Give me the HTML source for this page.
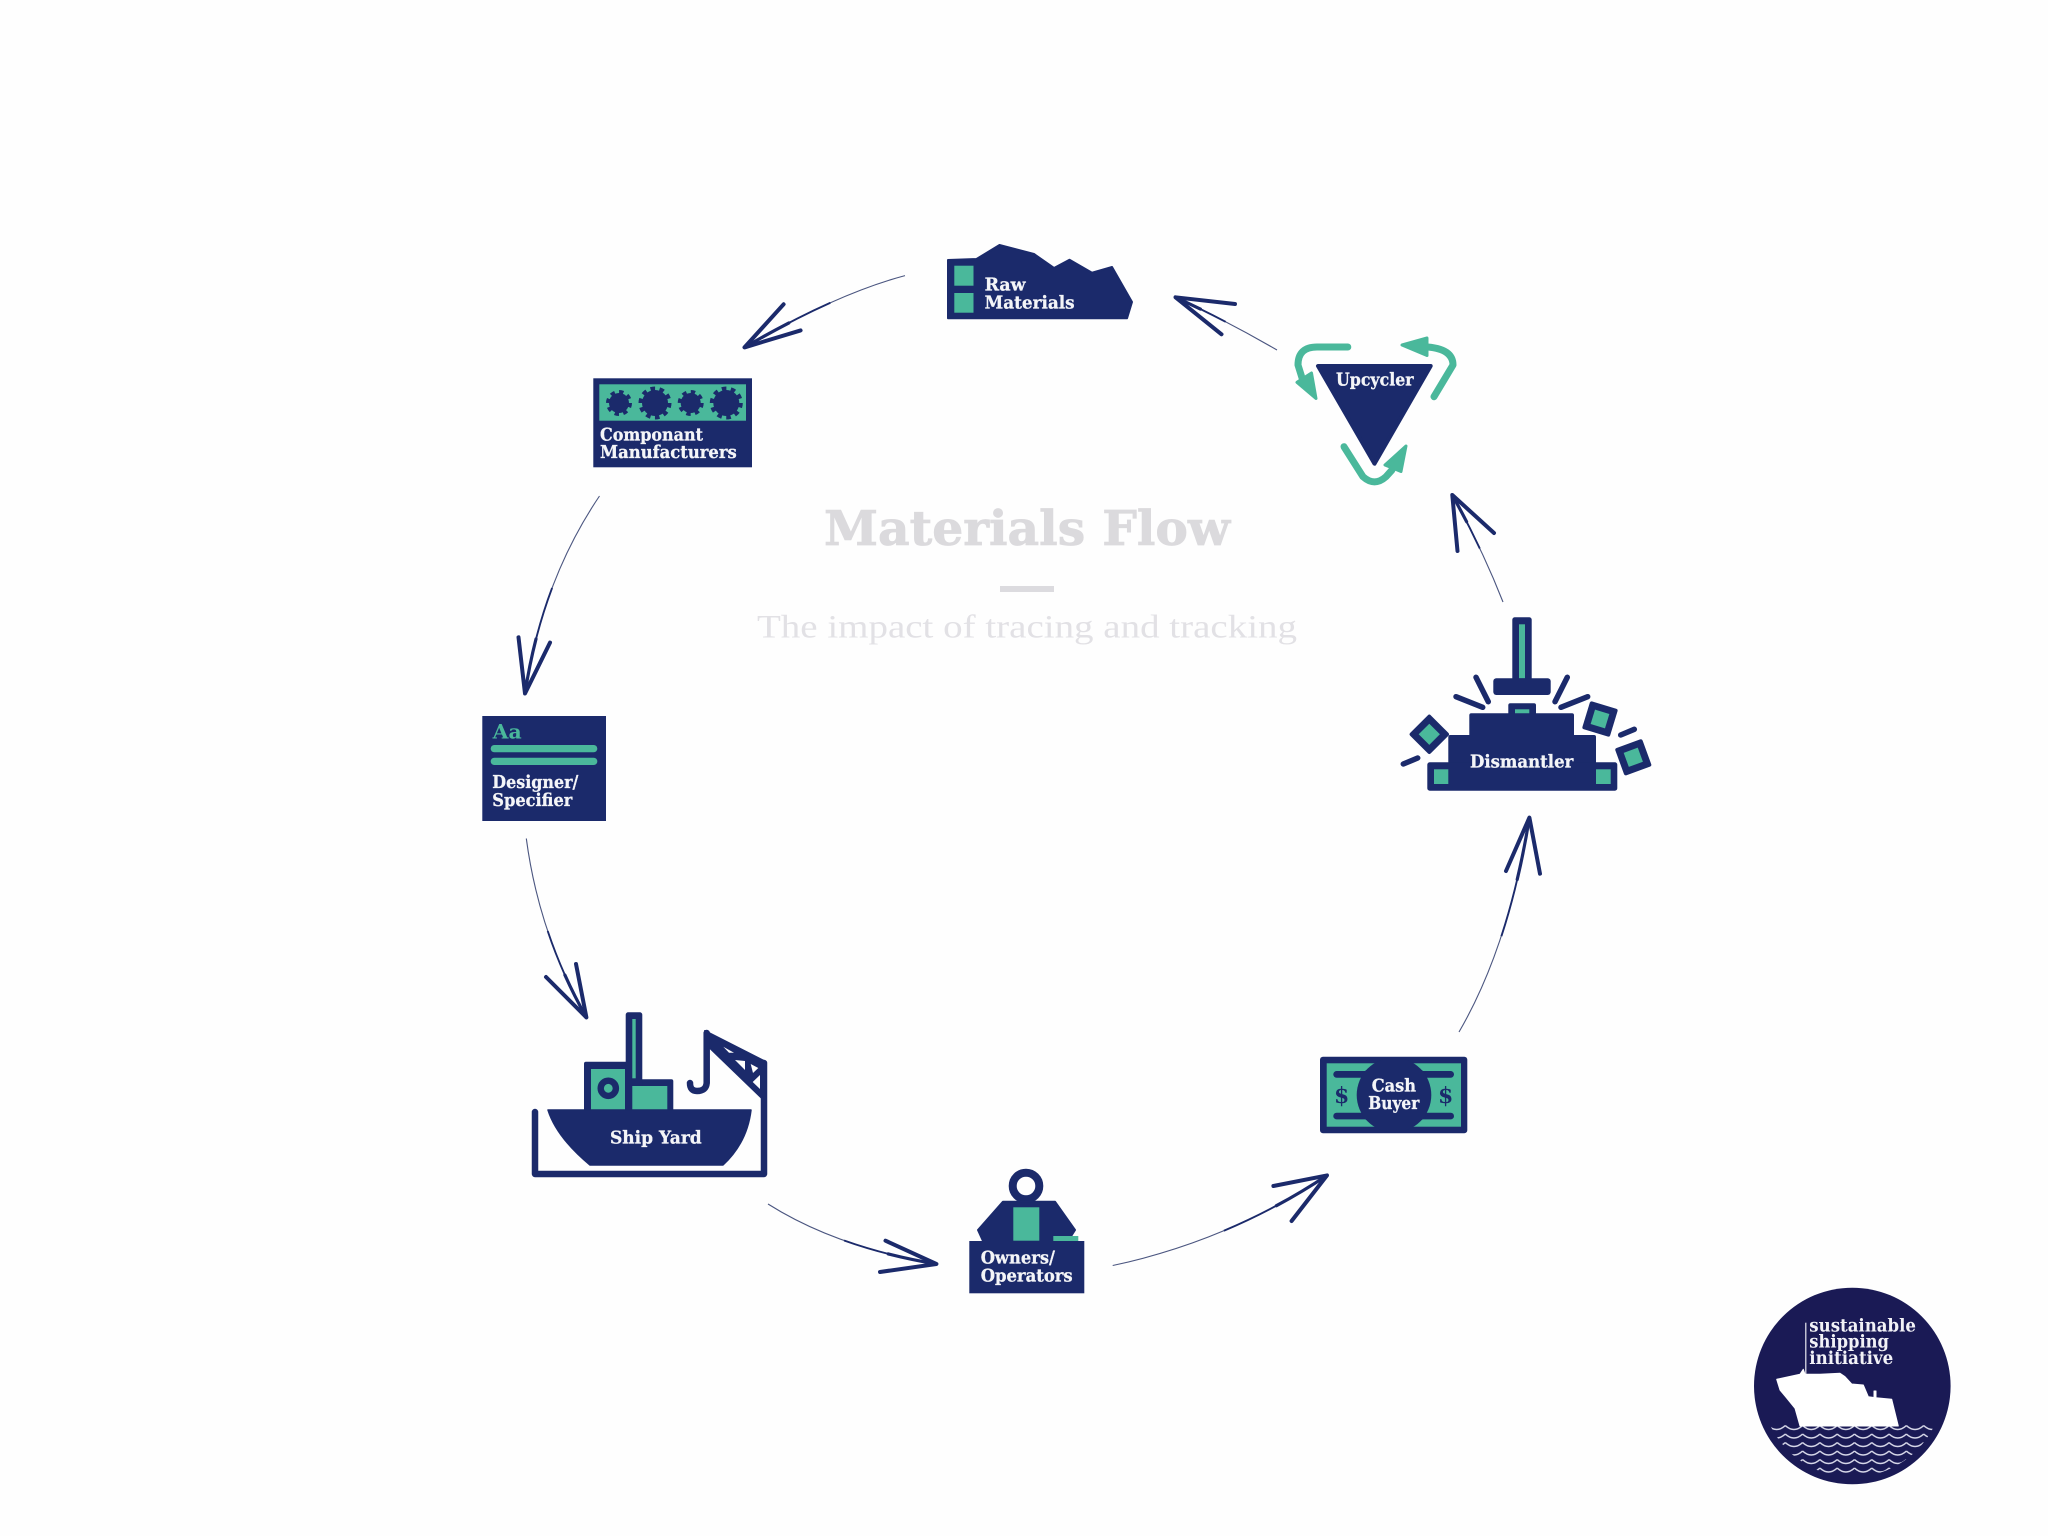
<!DOCTYPE html>
<html>
<head>
<meta charset="utf-8">
<style>
html,body{margin:0;padding:0;background:#fff}
svg{display:block}
.b{font-family:"DejaVu Serif","Liberation Serif",serif;font-weight:700;font-size:18px;fill:#f4f5f8;stroke:#f4f5f8;stroke-width:.3}
.s{fill:none;stroke:#4b5680;stroke-width:1.1}
.m{fill:none;stroke:#1b2a6b;stroke-width:1.9}
.t{fill:none;stroke:#1b2a6b;stroke-width:3.2;stroke-linecap:round}
.h{fill:none;stroke:#1b2a6b;stroke-width:4;stroke-linecap:round;stroke-linejoin:round}
.sp{fill:none;stroke:#1b2a6b;stroke-width:5.5;stroke-linecap:round}
.g{fill:#4ab89b}
.n{fill:#1b2a6b}
.ga{fill:none;stroke:#4ab89b;stroke-width:7;stroke-linecap:round;stroke-linejoin:round}
</style>
</head>
<body>
<svg xmlns="http://www.w3.org/2000/svg" width="2048" height="1536" viewBox="0 0 2048 1536">
<defs>
<pattern id="w" x="1768" y="1424" width="17.3" height="8.5" patternUnits="userSpaceOnUse">
<path d="M0,1.5 Q8.65,9.5 17.3,1.5" fill="none" stroke="#d6d7e8" stroke-width="1.4"/>
</pattern>
<clipPath id="wc"><circle cx="1852.3" cy="1386" r="91"/></clipPath>
</defs>
<rect width="2048" height="1536" fill="#fefefe"/>

<!-- Title -->
<text x="824" y="545" textLength="406" lengthAdjust="spacingAndGlyphs" style="font-family:'DejaVu Serif','Liberation Serif',serif;font-weight:700;font-size:48px;fill:#dbdadd;stroke:#dbdadd;stroke-width:.8">Materials Flow</text>
<rect x="1000" y="586" width="54" height="6" fill="#dcdbdf"/>
<text x="757" y="637.5" textLength="540" lengthAdjust="spacingAndGlyphs" style="font-family:'Liberation Serif',serif;font-size:33px;fill:#e2e1e5">The impact of tracing and tracking</text>

<!-- Arrows -->
<path class="s" d="M1277,350 Q1225,320 1175.5,297.3"/>
<path class="m" d="M1225.6,321.8 Q1200.3,308.7 1175.5,297.3"/>
<path class="t" d="M1200.4,309.1 Q1187.9,303 1175.5,297.3"/>
<path class="h" d="M1235,304 L1175.5,297.3 L1221.5,334.3"/>

<path class="s" d="M905,275.6 Q836,294 744.5,347.4"/>
<path class="m" d="M830.4,302.75 Q790.25,320.7 744.5,347.4"/>
<path class="t" d="M788.9,322.9 Q767.4,334 744.5,347.4"/>
<path class="h" d="M783.6,304.3 L744.5,347.4 L800.6,330.4"/>

<path class="s" d="M599.5,496 Q542,581 525,693.5"/>
<path class="m" d="M552.1,587.9 Q533.5,637.25 525,693.5"/>
<path class="t" d="M536,639 Q529.25,665.4 525,693.5"/>
<path class="h" d="M518.5,637.3 L525,693.5 L550,642.6"/>

<path class="s" d="M526.3,838.5 Q539,934 586.4,1017.4"/>
<path class="m" d="M547.7,931 Q562.7,975.7 586.4,1017.4"/>
<path class="t" d="M564.9,975 Q574.6,996.6 586.4,1017.4"/>
<path class="h" d="M546,977 L586.4,1017.4 L576,964"/>

<path class="s" d="M768,1204 Q836,1247 936.4,1264"/>
<path class="m" d="M844.1,1240.5 Q886.2,1255.5 936.4,1264"/>
<path class="t" d="M888.2,1253.9 Q911.3,1259.75 936.4,1264"/>
<path class="h" d="M885.5,1240.7 L936.4,1264 L880,1272"/>

<path class="s" d="M1112.7,1265.5 Q1228,1241 1327,1175.4"/>
<path class="m" d="M1223.9,1230.7 Q1277.5,1208.2 1327,1175.4"/>
<path class="t" d="M1276.4,1205.7 Q1302.25,1191.8 1327,1175.4"/>
<path class="h" d="M1273.4,1186 L1327,1175.4 L1291.6,1221"/>

<path class="s" d="M1459,1032 Q1508.5,947 1529.4,817.6"/>
<path class="m" d="M1501.4,936.2 Q1519,882.3 1529.4,817.6"/>
<path class="t" d="M1517.2,879.5 Q1524.2,850 1529.4,817.6"/>
<path class="h" d="M1506,871 L1529.4,817.6 L1540,873.7"/>

<path class="s" d="M1503,602 Q1482,548.5 1452.3,495"/>
<path class="m" d="M1479.8,548.5 Q1467.2,521.75 1452.3,495"/>
<path class="t" d="M1466.6,521.7 Q1459.7,508.4 1452.3,495"/>
<path class="h" d="M1457.5,551 L1452.3,495 L1494,533"/>

<!-- Raw Materials -->
<path class="n" stroke="#1b2a6b" stroke-width="2" stroke-linejoin="round" d="M948,260 L976.5,259 L999.5,245 L1034,254 L1054,268 L1069.5,259.7 L1092,272.7 L1112,267 L1132,302 L1127,318.3 L948,318.3 Z"/>
<rect class="g" x="954.3" y="265.7" width="19.2" height="20"/>
<rect class="g" x="954.3" y="293" width="19.2" height="19.7"/>
<text class="b" x="984.6" y="290.7" textLength="41" lengthAdjust="spacingAndGlyphs">Raw</text>
<text class="b" x="984.6" y="308.7" textLength="90" lengthAdjust="spacingAndGlyphs">Materials</text>

<!-- Upcycler -->
<path class="n" stroke="#1b2a6b" stroke-width="4" stroke-linejoin="round" d="M1318,366 L1430.7,366 L1374.5,463.7 Z"/>
<text class="b" x="1336" y="385.7" textLength="77.6" lengthAdjust="spacingAndGlyphs">Upcycler</text>
<path class="ga" d="M1347.8,347 L1317,347 Q1298,347 1298,365 L1303,381"/>
<path class="g" stroke="#4ab89b" stroke-width="3" stroke-linejoin="round" d="M1297,382.3 L1311.5,373 L1316,398.5 Z"/>
<path class="ga" d="M1424,346.7 Q1453,348 1453,365 L1434,396.7"/>
<path class="g" stroke="#4ab89b" stroke-width="3" stroke-linejoin="round" d="M1402,345 L1427,338 L1427,355.5 Z"/>
<path class="ga" d="M1344,446.7 L1363,476.7 Q1374.5,487 1386,476.7 L1392,470"/>
<path class="g" stroke="#4ab89b" stroke-width="3" stroke-linejoin="round" d="M1406,446 L1385,465 L1401,471.5 Z"/>

<!-- Component Manufacturers -->
<rect class="n" x="593.3" y="378.3" width="158.7" height="89"/>
<rect class="g" x="599.3" y="384.3" width="146.7" height="36.4"/>
<g class="n">
<circle cx="619" cy="403" r="10"/><circle cx="655" cy="403" r="13"/><circle cx="690.7" cy="403" r="10"/><circle cx="726.3" cy="403" r="13"/>
</g>
<g fill="none" stroke="#1b2a6b" stroke-width="4">
<circle cx="619" cy="403" r="11" stroke-dasharray="4.3 4.3"/>
<circle cx="655" cy="403" r="14.5" stroke-dasharray="4.6 4.5"/>
<circle cx="690.7" cy="403" r="11" stroke-dasharray="4.3 4.3"/>
<circle cx="726.3" cy="403" r="14.5" stroke-dasharray="4.6 4.5"/>
</g>
<text class="b" x="600" y="440.7" textLength="103" lengthAdjust="spacingAndGlyphs">Componant</text>
<text class="b" x="600" y="458" textLength="136.7" lengthAdjust="spacingAndGlyphs">Manufacturers</text>

<!-- Designer -->
<rect class="n" x="482.3" y="716" width="123.7" height="105"/>
<text x="492.7" y="738.3" textLength="29" lengthAdjust="spacingAndGlyphs" style="font-family:'DejaVu Serif',serif;font-weight:700;font-size:20px;fill:#4ab89b">Aa</text>
<rect class="g" x="490.7" y="745" width="106.6" height="7.3" rx="3.6"/>
<rect class="g" x="490.7" y="757.7" width="106.6" height="7.3" rx="3.6"/>
<text class="b" x="492.3" y="788" textLength="86" lengthAdjust="spacingAndGlyphs">Designer/</text>
<text class="b" x="492.3" y="806" textLength="80" lengthAdjust="spacingAndGlyphs">Specifier</text>

<!-- Ship Yard -->
<path fill="none" stroke="#1b2a6b" stroke-width="6.5" stroke-linecap="round" stroke-linejoin="round" d="M535,1112 L535,1174 L764,1174 L764,1063"/>
<path class="n" stroke="#1b2a6b" stroke-width="2" stroke-linejoin="round" d="M705,1031 L766,1062 L766,1102 L708,1046 Z"/>
<path fill="#fefefe" d="M723.3,1046.7 L734,1052.7 L729,1052.7 Z M735,1060 L745,1061 L745,1070 Z M750.7,1064 L758.3,1068 L753,1073 Z M752.7,1082 L760,1075 L760,1089 Z"/>
<path fill="none" stroke="#1b2a6b" stroke-width="6.5" stroke-linecap="round" d="M706.7,1033 L706.7,1083 Q706,1091 697,1091 Q690,1091 690,1083"/>
<rect class="n" x="584" y="1061.7" width="44" height="52" rx="2"/>
<rect class="n" x="625.7" y="1079.3" width="47.6" height="34" rx="2"/>
<rect class="n" x="625.7" y="1012.3" width="16.6" height="100" rx="2.5"/>
<rect class="g" x="591" y="1069" width="34" height="41"/>
<rect class="g" x="632.3" y="1086" width="35" height="24"/>
<rect class="g" x="632.3" y="1019" width="3.4" height="59.3"/>
<circle cx="608.3" cy="1088.3" r="7.6" fill="#4ab89b" stroke="#1b2a6b" stroke-width="6.4"/>
<path class="n" stroke="#1b2a6b" stroke-width="1.5" stroke-linejoin="round" d="M548,1110 L751,1110 C748,1135 737,1152 723,1165 L590,1165 C572,1150 555,1132 548,1110 Z"/>
<text class="b" x="610" y="1143.3" textLength="91.7" lengthAdjust="spacingAndGlyphs">Ship Yard</text>

<!-- Owners -->
<circle cx="1026" cy="1186" r="13.3" fill="#fefefe" stroke="#1b2a6b" stroke-width="8"/>
<path class="n" stroke="#1b2a6b" stroke-width="2" stroke-linejoin="round" d="M1003,1201.7 L1055,1201.7 L1075,1230 L1068,1241 L983,1241 L978,1230 Z"/>
<rect class="g" x="1013.3" y="1207.3" width="26" height="33.4"/>
<rect class="g" x="1053.3" y="1236" width="25" height="5"/>
<rect class="n" x="969.3" y="1241" width="115" height="52.3"/>
<text class="b" x="980.7" y="1263.3" textLength="74.3" lengthAdjust="spacingAndGlyphs">Owners/</text>
<text class="b" x="980.7" y="1281.7" textLength="92" lengthAdjust="spacingAndGlyphs">Operators</text>

<!-- Cash Buyer -->
<rect class="n" x="1320" y="1056.7" width="147.3" height="76.6" rx="3"/>
<rect class="g" x="1326.7" y="1063.3" width="134.3" height="63.4"/>
<rect class="n" x="1333.3" y="1071" width="120.7" height="6.7" rx="3.3"/>
<rect class="n" x="1333.3" y="1112.7" width="120.7" height="6.7" rx="3.3"/>
<path class="n" d="M1376,1063 L1412,1063 L1430,1076 L1358,1076 Z M1358,1114 L1430,1114 L1412,1127 L1376,1127 Z"/>
<circle class="n" cx="1394" cy="1095" r="37.3"/>
<text x="1341.7" y="1103" text-anchor="middle" style="font-family:'DejaVu Serif',serif;font-weight:700;font-size:22px;fill:#1b2a6b">$</text>
<text x="1445.7" y="1103" text-anchor="middle" style="font-family:'DejaVu Serif',serif;font-weight:700;font-size:22px;fill:#1b2a6b">$</text>
<text class="b" x="1371.7" y="1091.7" textLength="44.3" lengthAdjust="spacingAndGlyphs">Cash</text>
<text class="b" x="1368.3" y="1109" textLength="51" lengthAdjust="spacingAndGlyphs">Buyer</text>

<!-- Dismantler -->
<rect class="n" x="1512.3" y="617.3" width="19.4" height="64" rx="2.5"/>
<rect class="g" x="1519" y="624.3" width="6" height="54"/>
<rect class="n" x="1493.3" y="678.3" width="57.4" height="16.7" rx="3"/>
<rect class="n" x="1508.3" y="703.3" width="27.7" height="12" rx="2"/>
<rect class="g" x="1515" y="709.3" width="14.3" height="4.7"/>
<rect class="n" x="1469.3" y="713.3" width="104.7" height="24" rx="2"/>
<rect class="n" x="1448.3" y="735" width="147.7" height="29" rx="2"/>
<rect class="n" x="1427.3" y="762.3" width="190" height="28.4" rx="2.5"/>
<rect class="g" x="1434" y="769.3" width="14.3" height="14.7"/>
<rect class="g" x="1596" y="769.3" width="14.7" height="14.7"/>
<g class="sp">
<path d="M1476,677.3 L1488.3,701.7"/><path d="M1456,696.7 L1482.7,707.3"/>
<path d="M1567.3,677.3 L1555,701.7"/><path d="M1587.7,696.7 L1561,707.3"/>
<path d="M1403.3,764 L1417.7,758"/><path d="M1620.7,735 L1634.3,729.3"/>
</g>
<g transform="translate(1429.3,734.3) rotate(45)"><rect class="n" x="-14.5" y="-14.5" width="29" height="29" rx="2"/><rect class="g" x="-7.5" y="-7.5" width="15" height="15"/></g>
<g transform="translate(1600,719) rotate(17)"><rect class="n" x="-14.5" y="-14.5" width="29" height="29" rx="2"/><rect class="g" x="-7.5" y="-7.5" width="15" height="15"/></g>
<g transform="translate(1633.3,757.3) rotate(-20)"><rect class="n" x="-14.5" y="-14.5" width="29" height="29" rx="2"/><rect class="g" x="-7.5" y="-7.5" width="15" height="15"/></g>
<text class="b" x="1470" y="767.7" textLength="103.3" lengthAdjust="spacingAndGlyphs">Dismantler</text>

<!-- Logo -->
<circle cx="1852.3" cy="1386" r="98.3" fill="#1a1a55"/>
<rect x="1768" y="1425" width="170" height="50" fill="url(#w)" clip-path="url(#wc)"/>
<rect x="1805.2" y="1322.7" width="1.2" height="52" fill="#e8e8f0"/>
<path fill="#fff" stroke="#fff" stroke-width="1" stroke-linejoin="round" d="M1776.7,1379.3 L1800,1374.3 L1803.3,1369.3 L1805,1374.3 L1820,1374.3 L1840,1373.3 L1845,1376.7 L1851.7,1384 L1863.3,1385 L1868.3,1396.7 L1874,1397.5 L1874,1391 L1876,1391 L1876,1397.8 L1891.7,1399.3 L1898.3,1426 L1800,1426 L1795,1408.3 L1788.3,1400 L1780,1390 Z"/>
<g style="font-family:'DejaVu Serif','Liberation Serif',serif;font-weight:700;font-size:17.5px;fill:#f2f2f7">
<text x="1809.3" y="1331.7" textLength="106.7" lengthAdjust="spacingAndGlyphs">sustainable</text>
<text x="1809.3" y="1347.7" textLength="79.7" lengthAdjust="spacingAndGlyphs">shipping</text>
<text x="1809.3" y="1364" textLength="84" lengthAdjust="spacingAndGlyphs">initiative</text>
</g>
</svg>
</body>
</html>
